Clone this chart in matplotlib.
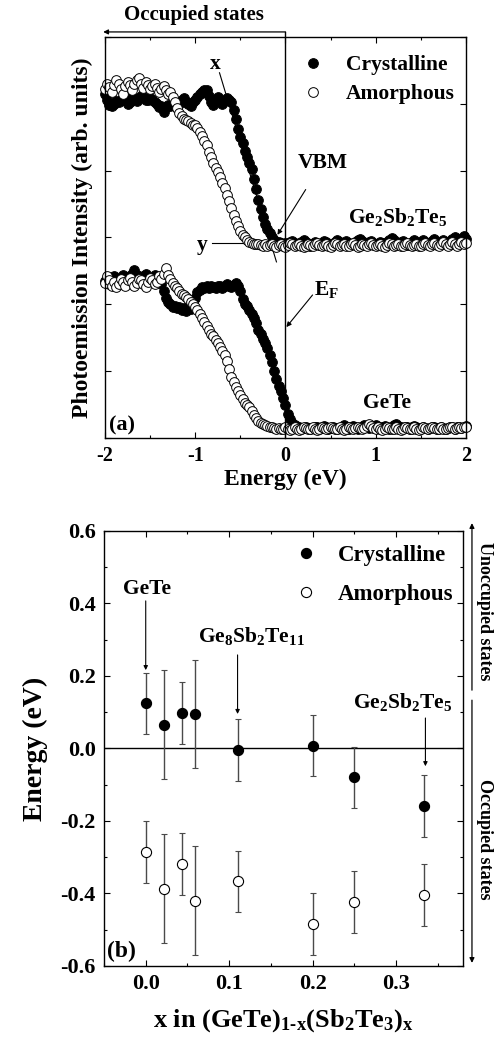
import numpy as np
import matplotlib
matplotlib.use("Agg")
import matplotlib.pyplot as plt
from matplotlib.ticker import MultipleLocator, NullFormatter

plt.rcParams.update({
    "font.family": ["Liberation Serif", "DejaVu Serif"],
    "font.weight": "bold",
    "mathtext.fontset": "custom",
    "mathtext.rm": "Liberation Serif:bold",
    "mathtext.it": "Liberation Serif:bold",
    "mathtext.bf": "Liberation Serif:bold",
    "mathtext.default": "rm",
    "axes.linewidth": 1.0,
    "xtick.direction": "in",
    "ytick.direction": "in",
    "xtick.top": True,
    "ytick.right": True,
    "xtick.major.size": 4,
    "ytick.major.size": 4,
    "xtick.minor.size": 2.5,
    "ytick.minor.size": 2.5,
    "xtick.major.width": 0.8,
    "ytick.major.width": 0.8,
    "xtick.minor.width": 0.8,
    "ytick.minor.width": 0.8,
})

# ---------------- (a) valence-band photoemission spectra ----------------
E_START, E_STOP, N_POINTS = -2.0, 2.0, 161
energy = np.linspace(E_START, E_STOP, N_POINTS)

gst_cryst = [
    5.15, 5.05, 4.98, 4.97, 5.00, 5.04, 5.02, 5.06, 5.08, 5.05,
    5.00, 5.03, 5.10, 5.07, 5.04, 5.08, 5.12, 5.10, 5.06, 5.05,
    5.09, 5.06, 5.02, 4.99, 4.95, 4.96, 4.88, 4.95, 4.98, 4.96,
    5.00, 4.97, 4.94, 4.99, 5.05, 5.08, 5.03, 5.00, 4.97, 5.02,
    5.06, 5.10, 5.14, 5.18, 5.21, 5.20, 5.12, 5.02, 4.98, 5.05,
    5.10, 5.06, 5.00, 5.04, 5.08, 5.06, 5.02, 4.90, 4.78, 4.62,
    4.50, 4.42, 4.30, 4.20, 4.12, 4.02, 3.88, 3.72, 3.56, 3.42,
    3.30, 3.20, 3.12, 3.06, 3.00, 2.96, 2.94, 2.93, 2.92, 2.91,
    2.92,
    2.90, 2.93, 2.95, 2.92, 2.89, 2.91, 2.94, 2.96, 2.93, 2.90,
    2.88, 2.91, 2.94, 2.92, 2.89, 2.92, 2.95, 2.93, 2.90, 2.88,
    2.91, 2.94, 2.96, 2.93, 2.90, 2.92, 2.95, 2.92, 2.89, 2.91,
    2.93, 2.96, 2.98, 2.95, 2.92, 2.90, 2.93, 2.95, 2.92, 2.89,
    2.91, 2.94, 2.92, 2.90, 2.93, 2.96, 2.99, 2.96, 2.92, 2.90,
    2.93, 2.95, 2.92, 2.89, 2.91, 2.94, 2.96, 2.93, 2.91, 2.94,
    2.96, 2.93, 2.90, 2.92, 2.95, 2.97, 2.94, 2.91, 2.93, 2.96,
    2.94, 2.92, 2.95, 2.98, 3.01, 2.97, 2.94, 2.97, 3.02, 2.97,
]

gst_amorph = [
    5.22, 5.30, 5.25, 5.18, 5.28, 5.35, 5.30, 5.22, 5.15, 5.26,
    5.32, 5.28, 5.20, 5.30, 5.36, 5.38, 5.30, 5.24, 5.33, 5.28,
    5.22, 5.26, 5.30, 5.24, 5.18, 5.22, 5.26, 5.20, 5.14, 5.18,
    5.10, 5.02, 4.94, 4.86, 4.82, 4.78, 4.76, 4.74, 4.71, 4.68,
    4.68, 4.64, 4.58, 4.52, 4.45, 4.38, 4.28, 4.20, 4.12, 4.04,
    3.98, 3.90, 3.82, 3.74, 3.64, 3.55, 3.44, 3.34, 3.25, 3.17,
    3.10, 3.04, 3.00, 2.96, 2.94, 2.92, 2.91, 2.90,
    2.90, 2.89, 2.88, 2.90, 2.87, 2.89, 2.91, 2.88, 2.86, 2.89,
    2.91, 2.88, 2.86, 2.89, 2.92, 2.90, 2.87, 2.89, 2.91, 2.88,
    2.86, 2.88, 2.91, 2.89, 2.87, 2.90, 2.92, 2.89, 2.87, 2.89,
    2.91, 2.88, 2.86, 2.89, 2.92, 2.90, 2.87, 2.89, 2.91, 2.88,
    2.87, 2.90, 2.92, 2.89, 2.86, 2.88, 2.91, 2.89, 2.87, 2.90,
    2.92, 2.89, 2.87, 2.89, 2.91, 2.88, 2.86, 2.89, 2.92, 2.90,
    2.87, 2.89, 2.91, 2.88, 2.87, 2.90, 2.92, 2.89, 2.87, 2.89,
    2.91, 2.88, 2.87, 2.90, 2.92, 2.89, 2.87, 2.90, 2.92, 2.89,
    2.88, 2.90, 2.93, 2.90, 2.88, 2.91, 2.93, 2.90, 2.88, 2.91,
    2.93, 2.91, 2.92,
]

gete_cryst = [
    2.35, 2.40, 2.30, 2.36, 2.42, 2.38, 2.33, 2.40, 2.44, 2.38,
    2.36, 2.42, 2.46, 2.52, 2.44, 2.40, 2.36, 2.42, 2.46, 2.40,
    2.36, 2.40, 2.44, 2.38, 2.34, 2.30, 2.20, 2.10, 2.04, 2.00,
    1.96, 1.98, 1.94, 1.96, 1.92, 1.94, 1.90, 1.96, 1.93, 1.99,
    2.10, 2.18, 2.22, 2.26, 2.24, 2.27, 2.25, 2.28, 2.26, 2.24,
    2.28, 2.27, 2.25, 2.28, 2.30, 2.28, 2.26, 2.29, 2.32, 2.28,
    2.20, 2.08, 2.00, 1.97, 1.92, 1.86, 1.80, 1.72, 1.62, 1.55,
    1.48, 1.42, 1.34, 1.24, 1.14, 1.00, 0.88, 0.78, 0.70, 0.60,
    0.50, 0.36, 0.28, 0.22, 0.19, 0.17,
    0.16, 0.14, 0.15, 0.17, 0.15, 0.13, 0.15, 0.17, 0.16, 0.14,
    0.16, 0.18, 0.16, 0.14, 0.15, 0.17, 0.15, 0.13, 0.15, 0.17,
    0.19, 0.16, 0.14, 0.16, 0.18, 0.16, 0.14, 0.15, 0.17, 0.19,
    0.17, 0.15, 0.16, 0.18, 0.20, 0.17, 0.15, 0.16, 0.18, 0.16,
    0.14, 0.16, 0.19, 0.21, 0.18, 0.16, 0.15, 0.17, 0.16, 0.14,
    0.16, 0.18, 0.16, 0.14, 0.15, 0.17, 0.15, 0.13, 0.15, 0.17,
    0.16, 0.14, 0.15, 0.17, 0.15, 0.13, 0.15, 0.17, 0.16, 0.14,
    0.16, 0.17, 0.15, 0.17, 0.18,
]

gete_amorph = [
    2.32, 2.42, 2.36, 2.28, 2.34, 2.26, 2.30, 2.38, 2.34, 2.28,
    2.36, 2.40, 2.34, 2.28, 2.32, 2.38, 2.36, 2.30, 2.26, 2.34,
    2.40, 2.36, 2.30, 2.34, 2.42, 2.38, 2.46, 2.54, 2.44, 2.38,
    2.32, 2.28, 2.24, 2.20, 2.16, 2.14, 2.11, 2.08, 2.04, 2.00,
    1.96, 1.92, 1.86, 1.80, 1.74, 1.68, 1.62, 1.56, 1.52, 1.47,
    1.42, 1.36, 1.30, 1.24, 1.15, 1.04, 0.92, 0.84, 0.76, 0.70,
    0.64, 0.58, 0.53, 0.50, 0.46, 0.40, 0.34, 0.30, 0.26, 0.23,
    0.21, 0.19, 0.18, 0.17,
    0.16, 0.15, 0.14, 0.15, 0.13, 0.14, 0.16, 0.14, 0.12, 0.14,
    0.16, 0.14, 0.12, 0.14, 0.16, 0.15, 0.13, 0.14, 0.16, 0.14,
    0.12, 0.14, 0.16, 0.15, 0.13, 0.15, 0.17, 0.15, 0.13, 0.14,
    0.16, 0.14, 0.12, 0.14, 0.16, 0.15, 0.13, 0.15, 0.17, 0.15,
    0.13, 0.15, 0.18, 0.21, 0.18, 0.15, 0.14, 0.16, 0.14, 0.12,
    0.14, 0.16, 0.15, 0.13, 0.14, 0.16, 0.14, 0.12, 0.14, 0.16,
    0.15, 0.13, 0.14, 0.16, 0.14, 0.12, 0.14, 0.16, 0.15, 0.13,
    0.15, 0.17, 0.15, 0.13, 0.14, 0.16, 0.14, 0.13, 0.15, 0.17,
    0.16, 0.14, 0.15, 0.17, 0.15, 0.16, 0.17,
]

# leading-edge construction for the Ge2Sb2Te5 crystalline spectrum
edge_line_E = [-0.731, -0.100]
edge_line_I = [5.464, 2.635]
base_line_E = [-0.809, -0.399]
base_line_I = [2.92, 2.92]

# ---------------- (b) band-edge energies vs composition ----------------
x_comp = [0.0, 0.022, 0.043, 0.059, 0.111, 0.200, 0.250, 0.333]
e_cryst = [0.124, 0.066, 0.097, 0.095, -0.004, 0.008, -0.080, -0.158]
e_amorph = [-0.285, -0.387, -0.318, -0.420, -0.367, -0.484, -0.423, -0.404]
err_cryst = [0.085, 0.150, 0.085, 0.150, 0.085, 0.085, 0.085, 0.085]
err_amorph = [0.085, 0.150, 0.085, 0.150, 0.085, 0.085, 0.085, 0.085]

fig = plt.figure(figsize=(4.98, 10.38), dpi=100)

# ======================= panel (a) =======================
ax1 = fig.add_axes([0.2108, 0.578, 0.7249, 0.3864])
ms_a = 7.0
filled = dict(marker="o", ls="none", ms=ms_a, mfc="black", mec="black", mew=0.7, clip_on=False)
hollow = dict(marker="o", ls="none", ms=ms_a, mfc="white", mec="black", mew=0.7, clip_on=False)
h_c, = ax1.plot(energy, gst_cryst, label="Crystalline", **filled)
h_a, = ax1.plot(energy, gst_amorph, label="Amorphous", **hollow)
ax1.plot(energy, gete_cryst, **filled)
ax1.plot(energy, gete_amorph, **hollow)

ax1.set_xlim(-2, 2)
ax1.set_ylim(0, 6)
ax1.xaxis.set_minor_locator(MultipleLocator(0.5))
ax1.yaxis.set_major_locator(MultipleLocator(1))
ax1.yaxis.set_major_formatter(NullFormatter())
ax1.tick_params(axis="x", labelsize=14.5, pad=6)
ax1.set_xticks([-2, -1, 0, 1, 2])
ax1.set_xticklabels(["-2", "-1", "0", "1", "2"])
ax1.set_xlabel("Energy (eV)", fontsize=17, fontweight="bold", labelpad=2)
ax1.set_ylabel("Photoemission Intensity (arb. units)", fontsize=17, fontweight="bold", labelpad=5)

# Fermi level line, extended up to the "Occupied states" arrow
ax1.axvline(0, ymin=0, ymax=1.0125, color="black", lw=1.0, clip_on=False, zorder=5)
ax1.annotate("", xy=(-2.02, 1.0125), xytext=(0, 1.0125),
             xycoords=("data", "axes fraction"), textcoords=("data", "axes fraction"),
             arrowprops=dict(arrowstyle="-|>", lw=0.9, color="black", mutation_scale=7,
                             shrinkA=0, shrinkB=0), annotation_clip=False)
ax1.text(-1.01, 1.055, "Occupied states", transform=ax1.get_xaxis_transform(),
         ha="center", va="center", fontsize=15, fontweight="bold")

ax1.plot(edge_line_E, edge_line_I, color="black", lw=0.8, zorder=1)
ax1.plot(base_line_E, base_line_I, color="black", lw=0.8, zorder=1)
ax1.text(-0.776, 5.60, "x", ha="center", va="center", fontsize=15.5, fontweight="bold")
ax1.text(-0.92, 2.89, "y", ha="center", va="center", fontsize=15.5, fontweight="bold")

arrow_kw = dict(arrowstyle="-|>", lw=0.8, color="black", mutation_scale=7, shrinkA=0, shrinkB=0)
ax1.annotate("VBM", xy=(-0.089, 3.04), xytext=(0.41, 4.12), ha="center", va="center",
             fontsize=15.5, fontweight="bold",
             arrowprops=dict(arrowstyle="-|>", lw=0.8, color="black", mutation_scale=7,
                             shrinkA=12, shrinkB=0))
ax1.annotate("", xy=(0.01, 1.66), xytext=(0.30, 2.14), arrowprops=arrow_kw)
ax1.text(0.45, 2.22, r"E$_\mathregular{F}$", ha="center", va="center", fontsize=15.5, fontweight="bold")

ax1.text(1.24, 3.22, r"Ge$_2$Sb$_2$Te$_5$", ha="center", va="baseline", fontsize=15.5, fontweight="bold")
ax1.text(1.12, 0.45, "GeTe", ha="center", va="baseline", fontsize=15.5, fontweight="bold")
ax1.text(-1.96, 0.12, "(a)", ha="left", va="baseline", fontsize=16, fontweight="bold")

ax1.legend(handles=[h_c, h_a], loc="upper left", bbox_to_anchor=(0.547, 0.955),
           frameon=False, handlelength=1.0, handletextpad=1.0,
           labelspacing=0.42, borderpad=0, borderaxespad=0,
           prop={"weight": "bold", "size": 15.5})

# ======================= panel (b) =======================
ax2 = fig.add_axes([0.2088, 0.0694, 0.7209, 0.4191])
ms_b = 7.3
eb_c = ax2.errorbar(x_comp, e_cryst, yerr=err_cryst, fmt="o", ms=ms_b, mfc="black", mec="black",
                    mew=0.8, ecolor="#4a4a4a", elinewidth=1.0, capsize=2.5, capthick=1.0,
                    label="Crystalline", zorder=3)
eb_a = ax2.errorbar(x_comp, e_amorph, yerr=err_amorph, fmt="o", ms=ms_b, mfc="white", mec="black",
                    mew=0.8, ecolor="#4a4a4a", elinewidth=1.0, capsize=2.5, capthick=1.0,
                    label="Amorphous", zorder=3)
ax2.axhline(0, color="black", lw=1.0, zorder=1)

ax2.set_xlim(-0.05, 0.38)
ax2.set_ylim(-0.6, 0.6)
ax2.xaxis.set_minor_locator(MultipleLocator(0.05))
ax2.yaxis.set_minor_locator(MultipleLocator(0.1))
ax2.set_xticks([0.0, 0.1, 0.2, 0.3])
ax2.set_xticklabels(["0.0", "0.1", "0.2", "0.3"])
ax2.set_yticks([-0.6, -0.4, -0.2, 0.0, 0.2, 0.4, 0.6])
ax2.set_yticklabels(["-0.6", "-0.4", "-0.2", "0.0", "0.2", "0.4", "0.6"])
ax2.tick_params(axis="both", labelsize=16, pad=6)
ax2.set_xlabel(r"x in (GeTe)$_{1\text{-}x}$(Sb$_2$Te$_3$)$_x$", fontsize=19, fontweight="bold", labelpad=9)
ax2.set_ylabel("Energy (eV)", fontsize=20, fontweight="bold", labelpad=9)

ax2.legend(handles=[eb_c[0], eb_a[0]], labels=["Crystalline", "Amorphous"],
           loc="upper left", bbox_to_anchor=(0.531, 0.967), frameon=False,
           handlelength=1.0, handletextpad=0.9, labelspacing=0.78, borderpad=0, borderaxespad=0,
           prop={"weight": "bold", "size": 16.5})

lbl_kw = dict(ha="center", va="baseline", fontsize=15.5, fontweight="bold")
arr_b = dict(arrowstyle="-|>", lw=0.8, color="black", mutation_scale=6, shrinkA=0, shrinkB=0)
ax2.text(0.002, 0.426, "GeTe", **lbl_kw)
ax2.annotate("", xy=(0.0, 0.216), xytext=(0.0, 0.407), arrowprops=arr_b)
ax2.text(0.127, 0.294, r"Ge$_8$Sb$_2$Te$_{11}$", **lbl_kw)
ax2.annotate("", xy=(0.110, 0.095), xytext=(0.110, 0.258), arrowprops=arr_b)
ax2.text(0.308, 0.111, r"Ge$_2$Sb$_2$Te$_5$", **lbl_kw)
ax2.annotate("", xy=(0.335, -0.049), xytext=(0.335, 0.084), arrowprops=arr_b)
ax2.text(-0.046, -0.576, "(b)", ha="left", va="baseline", fontsize=17, fontweight="bold")

# state-direction arrows to the right of panel (b)
side = dict(arrowstyle="-|>", lw=0.9, color="black", mutation_scale=7, shrinkA=0, shrinkB=0)
ax2.annotate("", xy=(1.025, 1.018), xytext=(1.025, 0.634), xycoords="axes fraction",
             textcoords="axes fraction", arrowprops=side, annotation_clip=False)
ax2.annotate("", xy=(1.025, 0.007), xytext=(1.025, 0.611), xycoords="axes fraction",
             textcoords="axes fraction", arrowprops=side, annotation_clip=False)
ax2.text(1.061, 0.816, "Unoccupied states", transform=ax2.transAxes, rotation=-90,
         ha="center", va="center", fontsize=13, fontweight="bold")
ax2.text(1.061, 0.292, "Occupied states", transform=ax2.transAxes, rotation=-90,
         ha="center", va="center", fontsize=13, fontweight="bold")

fig.savefig("out.png", dpi=100)
